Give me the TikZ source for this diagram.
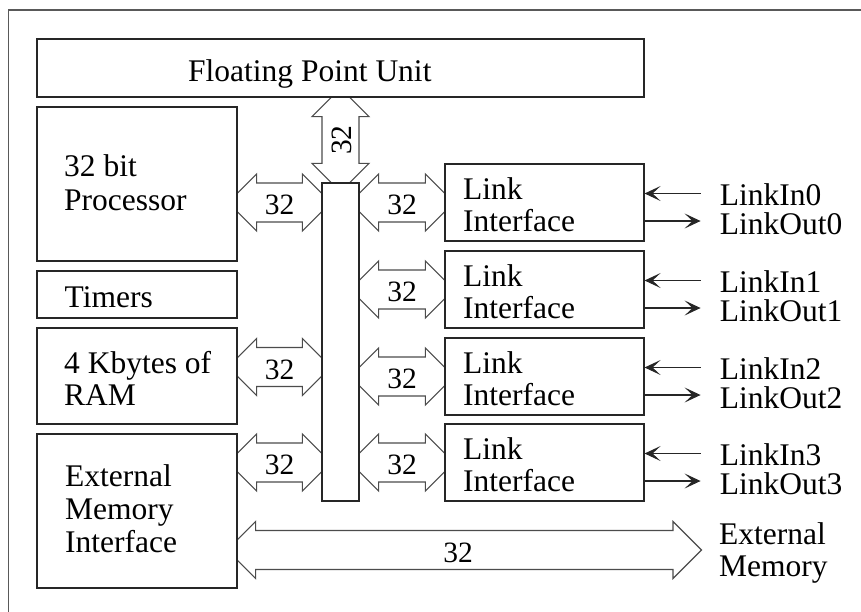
\documentclass[tikz,border=0pt]{standalone}
\usepackage{fontspec}
\setmainfont{Liberation Serif}
\usetikzlibrary{arrows.meta,calc}
\pgfdeclarelayer{bg}
\pgfsetlayers{bg,main}

% double-headed bus arrow, horizontal, between two tip points (same height)
\newcommand\hbus[2]{%
  \path[busline] (#1) -- ($(#1)+(28.5,-28.5)$) -- ($(#1)+(28.5,-19.5)$)
    -- ($(#2)+(-28.5,-19.5)$) -- ($(#2)+(-28.5,-28.5)$) -- (#2)
    -- ($(#2)+(-28.5,28.5)$) -- ($(#2)+(-28.5,19.5)$)
    -- ($(#1)+(28.5,19.5)$) -- ($(#1)+(28.5,28.5)$) -- cycle;}
% double-headed bus arrow, vertical, between a top tip and a bottom tip
\newcommand\vbus[2]{%
  \path[busline] (#1) -- ($(#1)+(28.5,28.5)$) -- ($(#1)+(18.5,28.5)$)
    -- ($(#2)+(18.5,-28.5)$) -- ($(#2)+(28.5,-28.5)$) -- (#2)
    -- ($(#2)+(-28.5,-28.5)$) -- ($(#2)+(-18.5,-28.5)$)
    -- ($(#1)+(-18.5,28.5)$) -- ($(#1)+(-28.5,28.5)$) -- cycle;}

\begin{document}
\begin{tikzpicture}[x=1pt,y=-1pt,
  box/.style={draw=black!85, fill=white, line width=1.15pt, inner sep=0pt},
  busline/.style={draw=black!70, fill=white, line width=1.1pt},
  txt/.style={anchor=base west, inner sep=0pt, text=black,
              font=\fontsize{31.5}{33}\selectfont},
  iotxt/.style={anchor=north west, inner sep=0pt, text=black, align=left,
              font=\fontsize{31.5}{29}\selectfont},
  num/.style={inner sep=0pt, text=black, font=\fontsize{29.5}{30}\selectfont},
  sig/.style={draw=black!85, line width=1.1pt,
              -{Stealth[length=16pt,width=15pt,inset=8pt]}},
  frameline/.style={draw=black!65, line width=1.3pt},
]
\useasboundingbox (0,0) rectangle (861,611);

% outer frame (runs off the right and bottom)
\draw[frameline] (8.5,615) -- (8.5,10) -- (865,10);

% functional blocks
\node[box, minimum width=607, minimum height=58]  (fpu)   at (340.5,68)  {};
\node[box, minimum width=200, minimum height=154] (proc)  at (137,184)   {};
\node[box, minimum width=200, minimum height=47]  (timer) at (137,294.5) {};
\node[box, minimum width=200, minimum height=96]  (ram)   at (137,376)   {};
\node[box, minimum width=200, minimum height=154] (emi)   at (137,511)   {};
\node[box, minimum width=37,  minimum height=318] (bus)   at (340.5,342) {};
\foreach \k/\t in {0/164,1/251,2/338,3/424}{
  \node[box, minimum width=199, minimum height=77] (l\k) at (544.5,\t+38.5) {};
}

% block texts
\node[txt] (fpu-t)  at (188,81)    {Floating Point Unit};
\node[txt] (proc-a) at (64,176.5)  {32 bit};
\node[txt] (proc-b) at (64,210)    {Processor};
\node[txt] (tim-t)  at (64.5,307)  {Timers};
\node[txt] (ram-a)  at (64,373)    {4 Kbytes of};
\node[txt] (ram-b)  at (64,405.5)  {RAM};
\node[txt] (emi-a)  at (65,486)    {External};
\node[txt] (emi-b)  at (65,519)    {Memory};
\node[txt] (emi-c)  at (65,552)    {Interface};
\foreach \k in {0,1,2,3}{
  \node[txt] (l\k-a) at ($(l\k.north west)+(18.5,36)$) {Link};
  \node[txt] (l\k-b) at ($(l\k.north west)+(18.5,68)$) {Interface};
}

% bus arrows (tips run under the blocks)
\coordinate (fpu-top) at ($(fpu.south -| bus.north)+(0,-9.5)$);
\coordinate (fpu-bot) at ($(bus.north)+(0,9.5)$);
\coordinate (proc-l)  at ($(proc.east |- l0.center)+(-9.5,0)$);
\coordinate (proc-r)  at ($(bus.west |- l0.center)+(9.5,0)$);
\coordinate (ram-l)   at ($(ram.east)+(-9.5,-9)$);
\coordinate (ram-r)   at ($(bus.west |- ram.east)+(9.5,-9)$);
\coordinate (emi-l)   at ($(emi.east |- l3.center)+(-9.5,0)$);
\coordinate (emi-r)   at ($(bus.west |- l3.center)+(9.5,0)$);
\coordinate (ext-l)   at ($(emi.east)+(-10.5,39)$);
\coordinate (ext-r)   at (701.5,550);
\foreach \k in {0,1,2,3}{
  \coordinate (b\k-l) at ($(bus.east |- l\k.center)+(-9.5,0)$);
  \coordinate (b\k-r) at ($(l\k.west)+(9.5,0)$);
}
\begin{pgfonlayer}{bg}
  \vbus{fpu-top}{fpu-bot}
  \hbus{proc-l}{proc-r}
  \hbus{ram-l}{ram-r}
  \hbus{emi-l}{emi-r}
  \hbus{ext-l}{ext-r}
  \foreach \k in {0,1,2,3}{\hbus{b\k-l}{b\k-r}}
\end{pgfonlayer}

% bus widths
\node[num, rotate=90] (w-fpu) at ($(fpu-top)!0.5!(fpu-bot)+(1,0)$) {32};
\node[num] (w-proc) at ($(proc-l)!0.5!(proc-r)+(0,2.5)$) {32};
\node[num] (w-ram)  at ($(ram-l)!0.5!(ram-r)+(0,2.5)$)   {32};
\node[num] (w-emi)  at ($(emi-l)!0.5!(emi-r)+(0,2.5)$)   {32};
\node[num] (w-ext)  at (458,553) {32};
\foreach \k in {0,1,2,3}{
  \node[num] (w-l\k) at ($(b\k-l)!0.5!(b\k-r)+(0,2.5)$) {32};
}

% serial links
\foreach \k in {0,1,2,3}{
  \coordinate (in\k)  at ($(l\k.east)+(56,-9)$);
  \coordinate (out\k) at ($(l\k.east)+(56,18.5)$);
  \draw[sig] (in\k) -- (in\k -| l\k.east);
  \draw[sig] (out\k -| l\k.east) -- (out\k);
  \node[iotxt] (io\k-t) at ($(in\k)+(19,-10.5)$) {LinkIn\k\\LinkOut\k};
}

% external memory port
\node[txt] (ext-a) at (719,544) {External};
\node[txt] (ext-b) at (719,576) {Memory};
\end{tikzpicture}
\end{document}
